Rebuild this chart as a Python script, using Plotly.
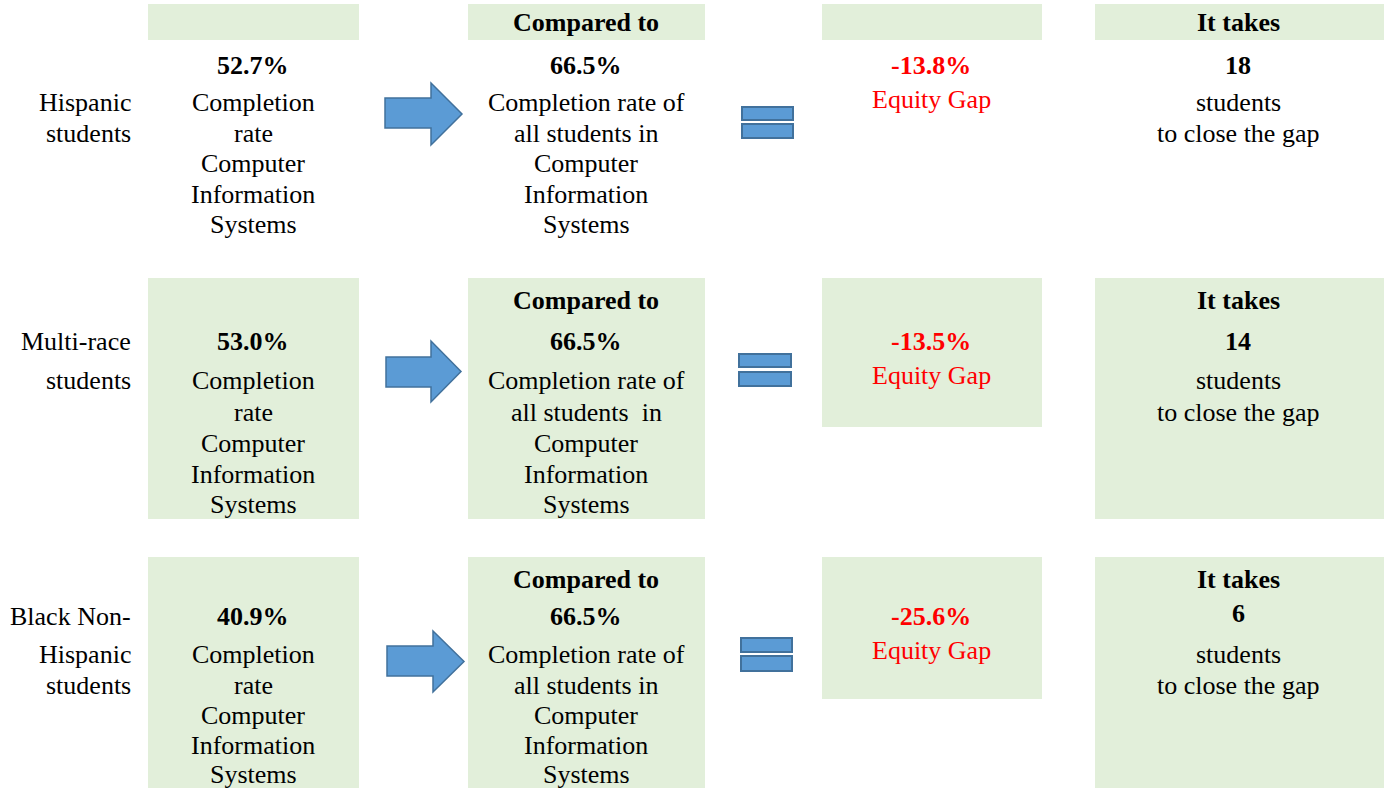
import plotly.graph_objects as go

# ---------------- data ----------------
groups = [["Hispanic", "students"], ["Multi-race", "students"], ["Black Non-", "Hispanic", "students"]]
group_rates = ["52.7%", "53.0%", "40.9%"]
overall_rates = ["66.5%", "66.5%", "66.5%"]
equity_gaps = ["-13.8%", "-13.5%", "-25.6%"]
students_needed = ["18", "14", "6"]
program = ["Computer", "Information", "Systems"]
all_text = [["Completion rate of", "all students in"],
            ["Completion rate of", "all students  in"],
            ["Completion rate of", "all students in"]]

# ---------------- layout constants ----------------
W, H = 1384, 788
GREEN = "#E2EFDA"
BLUE = "#5B9BD5"
BLUE_LINE = "#41719C"
RED = "#FF0000"
FONT = "Liberation Serif, Times New Roman, serif"
FS = 26

col_x = [253, 586, 931, 1238]
col_box = [(148, 359), (468, 705), (822, 1042), (1095, 1390)]
row_base = [65, 341, 616]
line_offsets = [[37, 68, 98, 129, 159],
                [39, 71, 102, 133, 163],
                [38, 69, 99, 129, 158]]
title_off = [-43, -41, -37]
label_start = [1, 0, 0]
label_x = 133

# green box vertical extents per row: (top, bottom, col3 bottom)
row_boxes = [(4, 40, 40), (278, 519, 427), (557, 800, 699)]
arrows = [(385, 431, 462, 83, 145, 98, 128),
          (386, 431, 461, 341, 402, 357, 387),
          (387, 433, 464, 631, 692, 646, 676)]
equals = [(742, 793, 107, 120, 124, 138),
          (739, 791, 354, 367, 372, 386),
          (741, 792, 638, 652, 656, 671)]

fig = go.Figure()
fig.add_trace(go.Scatter(x=[0, W], y=[0, H], mode="markers",
                         marker=dict(opacity=0), hoverinfo="skip", showlegend=False))

shapes = []
annotations = []


def txt(x, y, s, color="black", bold=False, xanchor="center"):
    if bold:
        s = "<b>" + s + "</b>"
    annotations.append(dict(x=x, y=y, xref="x", yref="y", text=s, showarrow=False,
                            xanchor=xanchor, yanchor="middle",
                            font=dict(family=FONT, size=FS, color=color)))


for r in range(3):
    top, bot, bot3 = row_boxes[r]
    for c, (x0, x1) in enumerate(col_box):
        b = bot3 if c == 2 else bot
        shapes.append(dict(type="rect", xref="x", yref="y", x0=x0, x1=x1, y0=top, y1=b,
                           fillcolor=GREEN, line=dict(width=0), layer="below"))
    # arrow
    bx0, hx, tip, hy0, hy1, by0, by1 = arrows[r]
    path = (f"M {bx0} {by0} L {hx} {by0} L {hx} {hy0} L {tip} {(hy0 + hy1) / 2} "
            f"L {hx} {hy1} L {hx} {by1} L {bx0} {by1} Z")
    shapes.append(dict(type="path", xref="x", yref="y", path=path,
                       fillcolor=BLUE, line=dict(color=BLUE_LINE, width=1.5)))
    # equals sign
    ex0, ex1, a0, a1, b0, b1 = equals[r]
    for y0, y1 in [(a0, a1), (b0, b1)]:
        shapes.append(dict(type="rect", xref="x", yref="y", x0=ex0, x1=ex1, y0=y0, y1=y1,
                           fillcolor=BLUE, line=dict(color=BLUE_LINE, width=2)))

    base = row_base[r]
    lines_y = [base + o for o in line_offsets[r]]
    grid = [base] + lines_y

    # row label
    for i, s in enumerate(groups[r]):
        txt(label_x, grid[label_start[r] + i], s, xanchor="right")

    # column 1
    txt(col_x[0], base, group_rates[r], bold=True)
    for i, s in enumerate(["Completion", "rate"] + program):
        txt(col_x[0], lines_y[i], s)

    # column 2
    txt(col_x[1], base + title_off[r], "Compared to", bold=True)
    txt(col_x[1], base, overall_rates[r], bold=True)
    for i, s in enumerate(all_text[r] + program):
        txt(col_x[1], lines_y[i], s)

    # column 3
    txt(col_x[2], base, equity_gaps[r], color=RED, bold=True)
    txt(col_x[2], base + 34, "Equity Gap", color=RED)

    # column 4
    txt(col_x[3], base + title_off[r], "It takes", bold=True)
    txt(col_x[3], base - (3 if r == 2 else 0), students_needed[r], bold=True)
    txt(col_x[3], lines_y[0], "students")
    txt(col_x[3], lines_y[1], "to close the gap")

fig.update_layout(
    width=W, height=H,
    margin=dict(l=0, r=0, t=0, b=0),
    paper_bgcolor="white", plot_bgcolor="white",
    xaxis=dict(range=[0, W], visible=False, fixedrange=True),
    yaxis=dict(range=[H, 0], visible=False, fixedrange=True),
    shapes=shapes, annotations=annotations, showlegend=False,
)

fig.write_html("out.html", config={"displayModeBar": False},
               post_script="document.body.style.margin='0';document.body.style.overflow='hidden';")
